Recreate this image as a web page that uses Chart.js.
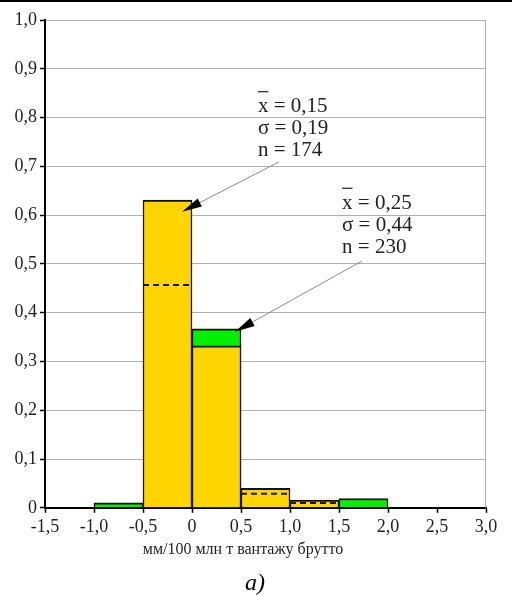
<!DOCTYPE html>
<html>
<head>
<meta charset="utf-8">
<script src="https://cdn.jsdelivr.net/npm/chart.js@4/dist/chart.umd.min.js"></script>
<style>
    html, body { margin: 0; padding: 0; background: #fff; }
    body { border-top: 2px solid #000; width: 512px; }
    #wrap { position: relative; width: 512px; height: 594px; }
</style>
</head>
<body>
<div id="wrap"><canvas id="histChart"></canvas></div>
<script>
// bins are 0.5 wide, given by their left edge
const binWidth = 0.5;
const yellowStarts = [-0.5, 0.0, 0.5, 1.0];
const yellowValues = [0.631, 0.332, 0.040, 0.016];
const greenStarts = [-1.0, 0.0, 1.5];
const greenValues = [0.010, 0.367, 0.019];
const dashStarts = [-0.5, 0.5, 1.0];
const dashValues = [0.457, 0.029, 0.010];

const xTicks = [-1.5, -1.0, -0.5, 0, 0.5, 1.0, 1.5, 2.0, 2.5, 3.0];
const yTicks = [0, 0.1, 0.2, 0.3, 0.4, 0.5, 0.6, 0.7, 0.8, 0.9, 1.0];

const xLabel = 'мм/100 млн т вантажу брутто';
const captionText = '\u2002\u2002а)';
const noteYellow = ['x = 0,15', 'σ = 0,19', 'n = 174'];
const noteGreen = ['x = 0,25', 'σ = 0,44', 'n = 230'];

const SERIF = '"Liberation Serif", "Times New Roman", serif';

function fmt(v) {
    if (v === 0) return '0';
    return v.toFixed(1).replace('.', ',');
}

function toBars(starts, values) {
    return starts.map((s, i) => ({ x: s + binWidth / 2, y: values[i] }));
}

function toDashes(starts, values) {
    const pts = [];
    starts.forEach((s, i) => {
        pts.push({ x: s, y: values[i] });
        pts.push({ x: s + binWidth, y: values[i] });
        pts.push({ x: s + binWidth, y: null });
    });
    return pts;
}

// callouts: text block and arrow, placed in data units
const callouts = [
    { lines: noteYellow, textAt: [0.673, 0.811], from: [0.888, 0.709], tip: [-0.102, 0.607] },
    { lines: noteGreen, textAt: [1.531, 0.613], from: [1.735, 0.506], tip: [0.439, 0.361] }
];

const calloutPlugin = {
    id: 'callouts',
    afterDraw(chart) {
        const { ctx, scales: { x, y }, chartArea } = chart;
        ctx.save();

        // right frame line
        ctx.strokeStyle = '#b0b0b0';
        ctx.lineWidth = 1;
        ctx.beginPath();
        ctx.moveTo(chartArea.right - 0.5, chartArea.top);
        ctx.lineTo(chartArea.right - 0.5, chartArea.bottom);
        ctx.stroke();

        callouts.forEach(c => {
            const tx = x.getPixelForValue(c.textAt[0]);
            const ty = y.getPixelForValue(c.textAt[1]);
            ctx.font = '21px ' + SERIF;
            ctx.fillStyle = '#222';
            ctx.textAlign = 'left';
            ctx.textBaseline = 'alphabetic';
            c.lines.forEach((line, i) => {
                ctx.fillText(line, tx, ty + i * 22);
            });
            // bar over the x of the mean
            const w = ctx.measureText('x').width;
            ctx.strokeStyle = '#222';
            ctx.lineWidth = 1.2;
            ctx.beginPath();
            ctx.moveTo(tx, ty - 20.5);
            ctx.lineTo(tx + w, ty - 20.5);
            ctx.stroke();

            // arrow
            const x0 = x.getPixelForValue(c.from[0]);
            const y0 = y.getPixelForValue(c.from[1]);
            const x1 = x.getPixelForValue(c.tip[0]);
            const y1 = y.getPixelForValue(c.tip[1]);
            const ang = Math.atan2(y1 - y0, x1 - x0);
            const len = 20, half = 4.5;
            const bx = x1 - len * Math.cos(ang);
            const by = y1 - len * Math.sin(ang);
            ctx.strokeStyle = '#8a8a8a';
            ctx.lineWidth = 1;
            ctx.beginPath();
            ctx.moveTo(x0, y0);
            ctx.lineTo(bx, by);
            ctx.stroke();
            ctx.fillStyle = '#000';
            ctx.beginPath();
            ctx.moveTo(x1, y1);
            ctx.lineTo(bx + half * Math.sin(ang), by - half * Math.cos(ang));
            ctx.lineTo(bx - half * Math.sin(ang), by + half * Math.cos(ang));
            ctx.closePath();
            ctx.fill();
        });
        ctx.restore();
    }
};

const ctx = document.getElementById('histChart').getContext('2d');
new Chart(ctx, {
    type: 'bar',
    data: {
        datasets: [
            {
                type: 'line',
                label: 'dashed',
                data: toDashes(dashStarts, dashValues),
                borderColor: '#1a1a1a',
                borderWidth: 2,
                borderDash: [6, 4],
                pointRadius: 0,
                spanGaps: false,
                order: 0
            },
            {
                label: 'n = 174',
                data: toBars(yellowStarts, yellowValues),
                backgroundColor: '#FFD500',
                borderColor: '#111',
                borderWidth: { top: 2, left: 1.5, right: 1.5, bottom: 0 },
                borderSkipped: 'start',
                barPercentage: 1,
                categoryPercentage: 1,
                grouped: false,
                order: 1
            },
            {
                label: 'n = 230',
                data: toBars(greenStarts, greenValues),
                backgroundColor: '#00F000',
                borderColor: '#111',
                borderWidth: { top: 2, left: 1.5, right: 1.5, bottom: 0 },
                borderSkipped: 'start',
                barPercentage: 1,
                categoryPercentage: 1,
                grouped: false,
                order: 2
            }
        ]
    },
    options: {
        responsive: true,
        maintainAspectRatio: false,
        animation: false,
        layout: { padding: { top: 18, right: 26, bottom: 0, left: 0 } },
        scales: {
            x: {
                type: 'linear',
                offset: false,
                min: xTicks[0],
                max: xTicks[xTicks.length - 1],
                afterBuildTicks: (scale) => { scale.ticks = xTicks.map(v => ({ value: v })); },
                afterFit: (scale) => { scale.height = 28; },
                ticks: {
                    color: '#222',
                    font: { family: SERIF, size: 18 },
                    padding: 4,
                    maxRotation: 0,
                    autoSkip: false,
                    callback: (v) => fmt(v)
                },
                grid: { offset: false, drawOnChartArea: false, drawTicks: true, tickLength: 5, tickColor: '#000', tickWidth: 1.5 },
                border: { color: '#000', width: 2 }
            },
            y: {
                min: 0,
                max: 1,
                afterBuildTicks: (scale) => { scale.ticks = yTicks.map(v => ({ value: v })); },
                afterFit: (scale) => { scale.width = 45; },
                ticks: {
                    color: '#222',
                    font: { family: SERIF, size: 18 },
                    padding: 3,
                    callback: (v) => fmt(v)
                },
                grid: { color: '#b0b0b0', lineWidth: 1, tickLength: 5, tickColor: '#000', tickWidth: 1.5 },
                border: { color: '#000', width: 2 }
            }
        },
        plugins: {
            legend: { display: false },
            tooltip: { enabled: false },
            subtitle: {
                display: true,
                position: 'bottom',
                text: xLabel,
                color: '#222',
                font: { family: SERIF, size: 16, weight: 'normal' },
                padding: { top: 4, bottom: 0 }
            },
            title: {
                display: true,
                position: 'bottom',
                text: captionText,
                color: '#000',
                font: { family: SERIF, size: 24, style: 'italic', weight: 'normal', lineHeight: 1 },
                padding: { top: 13, bottom: 0 }
            }
        }
    },
    plugins: [calloutPlugin]
});
</script>
</body>
</html>
